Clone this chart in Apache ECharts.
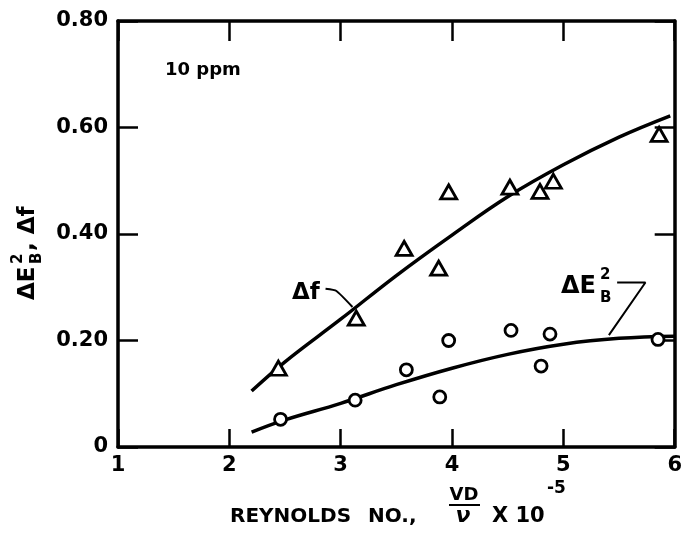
<!DOCTYPE html>
<html>
<head>
<meta charset="utf-8">
<script src="https://cdn.jsdelivr.net/npm/echarts@6/dist/echarts.min.js"></script>
<style>
  html, body { margin: 0; padding: 0; background: #fff; }
  #chart { width: 685px; height: 534px; }
</style>
</head>
<body>
<div id="chart"></div>
<script>
// triangles: delta f
var triX = [2.44, 3.14, 3.57, 3.88, 3.97, 4.52, 4.79, 4.91, 5.86];
var triY = [0.148, 0.242, 0.373, 0.336, 0.479, 0.488, 0.480, 0.499, 0.587];
// circles: delta E_B^2
var circX = [2.46, 3.13, 3.59, 3.89, 3.97, 4.53, 4.80, 4.88, 5.85];
var circY = [0.052, 0.088, 0.145, 0.094, 0.200, 0.219, 0.152, 0.212, 0.202];
// hand-drawn fit curves
var fitFX = [2.2, 2.5, 3.0, 3.5, 4.0, 4.5, 5.0, 5.5, 5.96];
var fitFY = [0.105, 0.16, 0.24, 0.322, 0.398, 0.47, 0.53, 0.582, 0.622];
var fitEX = [2.2, 2.5, 3.0, 3.5, 4.0, 4.5, 5.0, 5.5, 6.0];
var fitEY = [0.028, 0.051, 0.082, 0.117, 0.148, 0.174, 0.193, 0.204, 0.208];
// label leader lines
var leadFX = [2.864, 2.962, 3.106];
var leadFY = [0.297, 0.293, 0.263];
var leadEX = [5.483, 5.737, 5.409];
var leadEY = [0.309, 0.309, 0.210];
// axes
var xTicks = [1, 2, 3, 4, 5, 6];
var yTicks = [0, 0.2, 0.4, 0.6, 0.8];

function zip(a, b) {
  var out = [];
  for (var i = 0; i < a.length; i++) out.push([a[i], b[i]]);
  return out;
}

var FONT = '"DejaVu Sans", sans-serif';
var chart = echarts.init(document.getElementById('chart'));

var axisLine = { show: true, onZero: false, lineStyle: { color: '#000', width: 3.5 } };
var tickIn = function (len) {
  return { show: true, inside: true, length: len, lineStyle: { color: '#000', width: 2.5 } };
};
var txt = function (x, y, s, size, extra) {
  var st = { text: s, font: 'bold ' + size + 'px ' + FONT, fill: '#000', textVerticalAlign: 'middle' };
  if (extra) st.textAlign = extra;
  return { type: 'text', x: x, y: y, style: st };
};

var option = {
  backgroundColor: '#fff',
  animation: false,
  grid: { left: 118, right: 9, top: 21, bottom: 87, containLabel: false },
  xAxis: [
    {
      type: 'value', position: 'bottom',
      min: xTicks[0], max: xTicks[xTicks.length - 1], interval: 1,
      axisLine: axisLine, axisTick: tickIn(18), splitLine: { show: false },
      axisLabel: { color: '#000', fontFamily: FONT, fontWeight: 'bold', fontSize: 21, margin: 8 }
    },
    {
      type: 'value', position: 'top',
      min: xTicks[0], max: xTicks[xTicks.length - 1], interval: 1,
      axisLine: axisLine, axisTick: tickIn(20), splitLine: { show: false },
      axisLabel: { show: false }
    }
  ],
  yAxis: [
    {
      type: 'value', position: 'left',
      min: yTicks[0], max: yTicks[yTicks.length - 1], interval: 0.2,
      axisLine: axisLine, axisTick: tickIn(20), splitLine: { show: false },
      axisLabel: {
        color: '#000', fontFamily: FONT, fontWeight: 'bold', fontSize: 21, margin: 10,
        formatter: function (v) { return v === 0 ? '0' : v.toFixed(2); }
      }
    },
    {
      type: 'value', position: 'right',
      min: yTicks[0], max: yTicks[yTicks.length - 1], interval: 0.2,
      axisLine: axisLine, axisTick: tickIn(20), splitLine: { show: false },
      axisLabel: { show: false }
    }
  ],
  series: [
    {
      name: 'fit f', type: 'line', smooth: 0.4, showSymbol: false, symbol: 'none',
      data: zip(fitFX, fitFY), lineStyle: { color: '#000', width: 3.5 }, z: 2
    },
    {
      name: 'fit E', type: 'line', smooth: 0.4, showSymbol: false, symbol: 'none',
      data: zip(fitEX, fitEY), lineStyle: { color: '#000', width: 3.5 }, z: 2
    },
    {
      name: 'lead f', type: 'line', smooth: 0.15, symbol: 'none',
      data: zip(leadFX, leadFY), lineStyle: { color: '#000', width: 2 }, z: 2
    },
    {
      name: 'lead E', type: 'line', symbol: 'none',
      data: zip(leadEX, leadEY), lineStyle: { color: '#000', width: 2 }, z: 2
    },
    {
      name: 'Δf', type: 'scatter', symbol: 'triangle', symbolSize: [16, 14],
      data: zip(triX, triY),
      itemStyle: { color: '#fff', borderColor: '#000', borderWidth: 2.8, opacity: 1 }, z: 3
    },
    {
      name: 'ΔE', type: 'scatter', symbol: 'circle', symbolSize: 12,
      data: zip(circX, circY),
      itemStyle: { color: '#fff', borderColor: '#000', borderWidth: 2.8, opacity: 1 }, z: 3
    }
  ],
  graphic: [
    // 10 ppm
    txt(165, 70, '10 ppm', 18),
    // delta f label
    txt(292, 293, 'Δf', 23),
    // delta E_B^2 label
    txt(561, 287, 'ΔE', 24),
    txt(600, 275, '2', 15),
    txt(600, 298, 'B', 15),
    // y axis title
    {
      type: 'group', x: 28, y: 300, rotation: Math.PI / 2,
      children: [
        txt(0, 0, 'ΔE', 23),
        txt(36, -10, '2', 15),
        txt(36, 9, 'B', 15),
        txt(49, 0, ', Δf', 23)
      ]
    },
    // x axis title
    txt(230, 517, 'REYNOLDS', 20),
    txt(368, 517, 'NO.,', 20),
    txt(464, 495, 'VD', 18, 'center'),
    { type: 'line', shape: { x1: 449, y1: 505, x2: 480, y2: 505 }, style: { stroke: '#000', lineWidth: 2 } },
    { type: 'text', x: 463, y: 516, style: { text: 'ν', font: 'bold italic 22px ' + FONT, fill: '#000', textAlign: 'center', textVerticalAlign: 'middle' } },
    txt(492, 517, 'X 10', 21),
    txt(547, 489, '-5', 17)
  ]
};

option && chart.setOption(option);
</script>
</body>
</html>
